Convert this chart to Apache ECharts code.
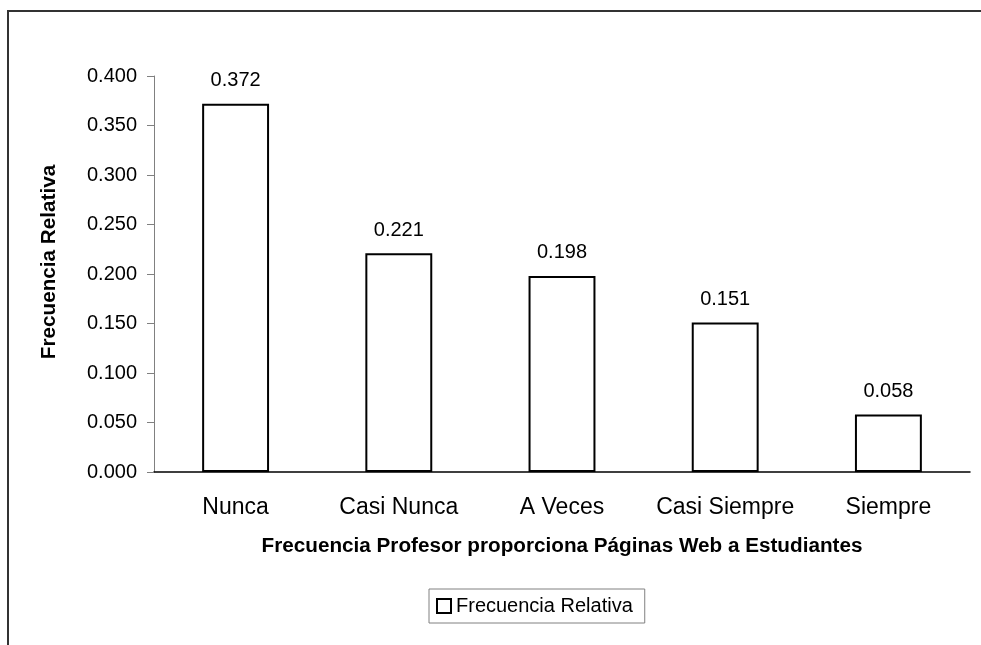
<!DOCTYPE html>
<html>
<head>
    <meta charset="utf-8">
    <script src="https://cdn.jsdelivr.net/npm/echarts@6/dist/echarts.min.js"></script>
    <style>
        html, body { margin: 0; padding: 0; background: #fff; }
        #main { width: 981px; height: 645px; }
    </style>
</head>

<body>
    <div id="main"></div>

    <script type="text/javascript">
        var categories = ['Nunca', 'Casi Nunca', 'A Veces', 'Casi Siempre', 'Siempre']
        var values = [0.372, 0.221, 0.198, 0.151, 0.058]
        var seriesName = 'Frecuencia Relativa'
        var xName = 'Frecuencia Profesor proporciona Páginas Web a Estudiantes'
        var yName = 'Frecuencia Relativa'

        var font = 'Arial, "Liberation Sans", sans-serif'

        var myChart = echarts.init(document.getElementById('main'))

        myChart.setOption({
            animation: false,
            textStyle: { fontFamily: font, color: '#000' },
            // outer frame of the original chart (right and bottom are cut off)
            graphic: [{
                type: 'rect',
                shape: { x: 8, y: 11, width: 1200, height: 900 },
                style: { fill: 'none', stroke: '#333', lineWidth: 2 },
                silent: true
            }],
            legend: {
                data: [seriesName],
                left: 429,
                top: 589,
                padding: [7, 12, 7, 7],
                borderColor: '#808080',
                borderWidth: 1,
                itemWidth: 14,
                itemHeight: 14,
                icon: 'rect',
                textStyle: { fontSize: 20, color: '#000', fontFamily: font }
            },
            grid: {
                left: 154,
                right: 11,
                top: 76,
                bottom: 173
            },
            xAxis: {
                type: 'category',
                data: categories,
                name: xName,
                nameLocation: 'middle',
                nameGap: 64,
                nameTextStyle: { fontSize: 20.7, fontWeight: 'bold', color: '#000' },
                axisLine: { lineStyle: { color: '#000', width: 1.5 } },
                axisTick: { length: 7, lineStyle: { color: '#808080' } },
                axisLabel: { fontSize: 23, color: '#000', margin: 24, interval: 0 }
            },
            yAxis: {
                type: 'value',
                min: 0,
                max: 0.4,
                interval: 0.05,
                name: yName,
                nameLocation: 'middle',
                nameGap: 94,
                nameTextStyle: {
                    fontSize: 20.7,
                    fontWeight: 'bold',
                    color: '#000',
                    padding: [0, 0, 0, 24]
                },
                axisLine: { show: true, lineStyle: { color: '#808080' } },
                axisTick: { show: true, length: 7, lineStyle: { color: '#808080' } },
                splitLine: { show: false },
                axisLabel: {
                    fontSize: 20,
                    color: '#000',
                    margin: 17,
                    formatter: function (v) { return v.toFixed(3) }
                }
            },
            series: [{
                name: seriesName,
                type: 'bar',
                data: values,
                barCategoryGap: '59%',
                itemStyle: { color: '#fff', borderColor: '#000', borderWidth: 2 },
                label: {
                    show: true,
                    position: 'top',
                    distance: 13,
                    fontSize: 20,
                    color: '#000',
                    formatter: function (p) { return p.value.toFixed(3) }
                }
            }]
        })
    </script>
</body>

</html>
